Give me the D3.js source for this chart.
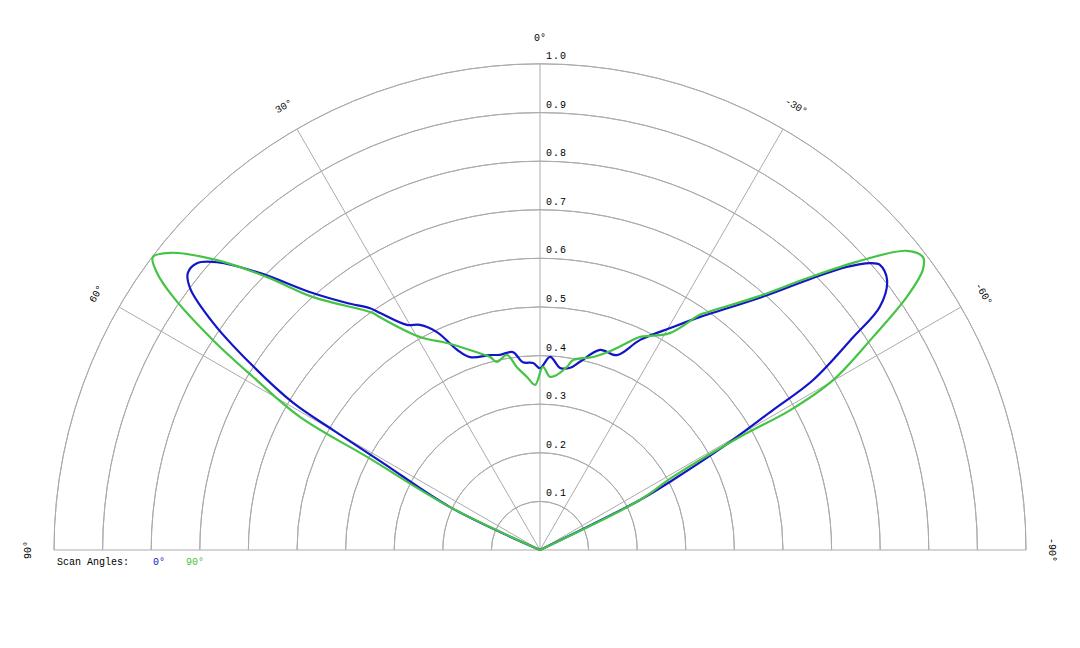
<!DOCTYPE html>
<html><head><meta charset="utf-8">
<script src="https://cdn.jsdelivr.net/npm/d3@7"></script>
<style>body{margin:0;background:#fff}text{font-family:"Liberation Mono","DejaVu Sans Mono",monospace}</style>
</head><body><svg id="c" width="1080" height="648"></svg>
<script>
// Data (angle in degrees, positive = left; radius normalized 0..1)
const ringTicks = [0.1,0.2,0.3,0.4,0.5,0.6,0.7,0.8,0.9,1.0];
const spokeAngles = [90,60,30,0,-30,-60,-90];
const spokeLabels = ["90°","60°","30°","0°","-30°","-60°","-90°"];
const seriesNames = ["0°","90°"];
const seriesColors = ["#1414c8","#44c444"];

const blueAngles = [-90,-63.4,-62.2,-60.6,-59,-58.1,-55.8,-54.4,-52.1,-50,-49,-47.3,-45.1,-41.7,-36.1,-34.5,-30.8,-25.5,-21.5,-16.7,-12,-9.4,-6.3,-3,0,2.1,5.2,7.8,11.6,14.4,19.9,22.5,25.3,28.1,30.6,34,35.1,38,41.5,45.3,48.3,50.1,51.8,53.2,55.2,57.2,59.2,59.9,61,64.5,90];
const blueValues = [0,0.23,0.309,0.432,0.559,0.662,0.779,0.86,0.905,0.913,0.9,0.859,0.793,0.702,0.604,0.582,0.534,0.479,0.431,0.43,0.396,0.38,0.377,0.398,0.374,0.385,0.388,0.411,0.41,0.414,0.422,0.446,0.496,0.525,0.538,0.588,0.608,0.645,0.706,0.81,0.89,0.92,0.922,0.899,0.819,0.71,0.591,0.492,0.369,0.205,0];

const greenAngles = [-90,-63.4,-61.2,-60.5,-60.8,-59.9,-57.4,-55.4,-53.8,-52.6,-50.8,-47.7,-44.5,-40.6,-35.1,-34.2,-30.9,-25.1,-23.9,-20,-15.4,-9.9,-8.4,-5.5,-3.3,-0.9,1.7,4.3,7.2,9.6,12.9,14.5,19.3,24.2,29.4,34.5,35.2,41.9,45,48.1,51.2,52.9,54.1,55.4,57.3,58.9,61,61.7,64.5,90];
const greenValues = [0,0.23,0.312,0.473,0.59,0.697,0.813,0.917,0.976,0.992,0.974,0.881,0.784,0.686,0.598,0.585,0.52,0.484,0.473,0.438,0.412,0.397,0.381,0.362,0.357,0.377,0.34,0.357,0.379,0.407,0.397,0.41,0.436,0.467,0.503,0.581,0.597,0.699,0.794,0.893,0.976,0.999,0.973,0.917,0.8,0.69,0.565,0.404,0.205,0];

const cx=540, cy=550, R=486;
const svg=d3.select("#c");
const rScale=d3.scaleLinear().domain([0,1]).range([0,R]);
const aScale=d3.scaleLinear().domain([90,-90]).range([-Math.PI/2,Math.PI/2]);
const g=svg.append("g").attr("transform",`translate(${cx},${cy})`);
const grid="#ababab";
const arc=d3.arc().startAngle(-Math.PI/2).endAngle(Math.PI/2).innerRadius(d=>rScale(d)).outerRadius(d=>rScale(d));
g.selectAll("path.ring").data(ringTicks).join("path").attr("d",d=>arc(d)).attr("fill","none").attr("stroke",grid).attr("stroke-width",1);
g.selectAll("line.sp").data(spokeAngles).join("line")
 .attr("x1",0).attr("y1",0)
 .attr("x2",d=>rScale(1)*Math.sin(aScale(d))).attr("y2",d=>-rScale(1)*Math.cos(aScale(d)))
 .attr("stroke",grid).attr("stroke-width",1);
g.selectAll("text.rl").data(ringTicks).join("text")
 .attr("x",6).attr("y",d=>-rScale(d)-5).attr("font-size",10).attr("fill","#000")
 .attr("letter-spacing",1).text(d=>d.toFixed(1));
g.selectAll("text.al").data(spokeAngles).join("text")
 .attr("transform",(d,i)=>{const a=aScale(d);const rr=rScale(1.055);
   return `translate(${rr*Math.sin(a)},${-rr*Math.cos(a)}) rotate(${a*180/Math.PI})`;})
 .attr("text-anchor","middle").attr("dy","0.35em").attr("font-size",10).attr("fill","#000")
 .text((d,i)=>spokeLabels[i]);
const line=d3.lineRadial().angle(d=>aScale(d[0])).radius(d=>rScale(d[1])).curve(d3.curveCatmullRom.alpha(0.5));
const series=[d3.zip(blueAngles,blueValues),d3.zip(greenAngles,greenValues)];
g.selectAll("path.s").data(series).join("path").attr("d",line).attr("fill","none")
 .attr("stroke",(d,i)=>seriesColors[i]).attr("stroke-width",2.2).attr("stroke-linejoin","round");
const lg=svg.append("text").attr("x",57).attr("y",565).attr("font-size",10).attr("fill","#000");
lg.append("tspan").text("Scan Angles:");
lg.append("tspan").attr("x",153).attr("fill",seriesColors[0]).text(seriesNames[0]);
lg.append("tspan").attr("x",186).attr("fill",seriesColors[1]).text(seriesNames[1]);
</script></body></html>
